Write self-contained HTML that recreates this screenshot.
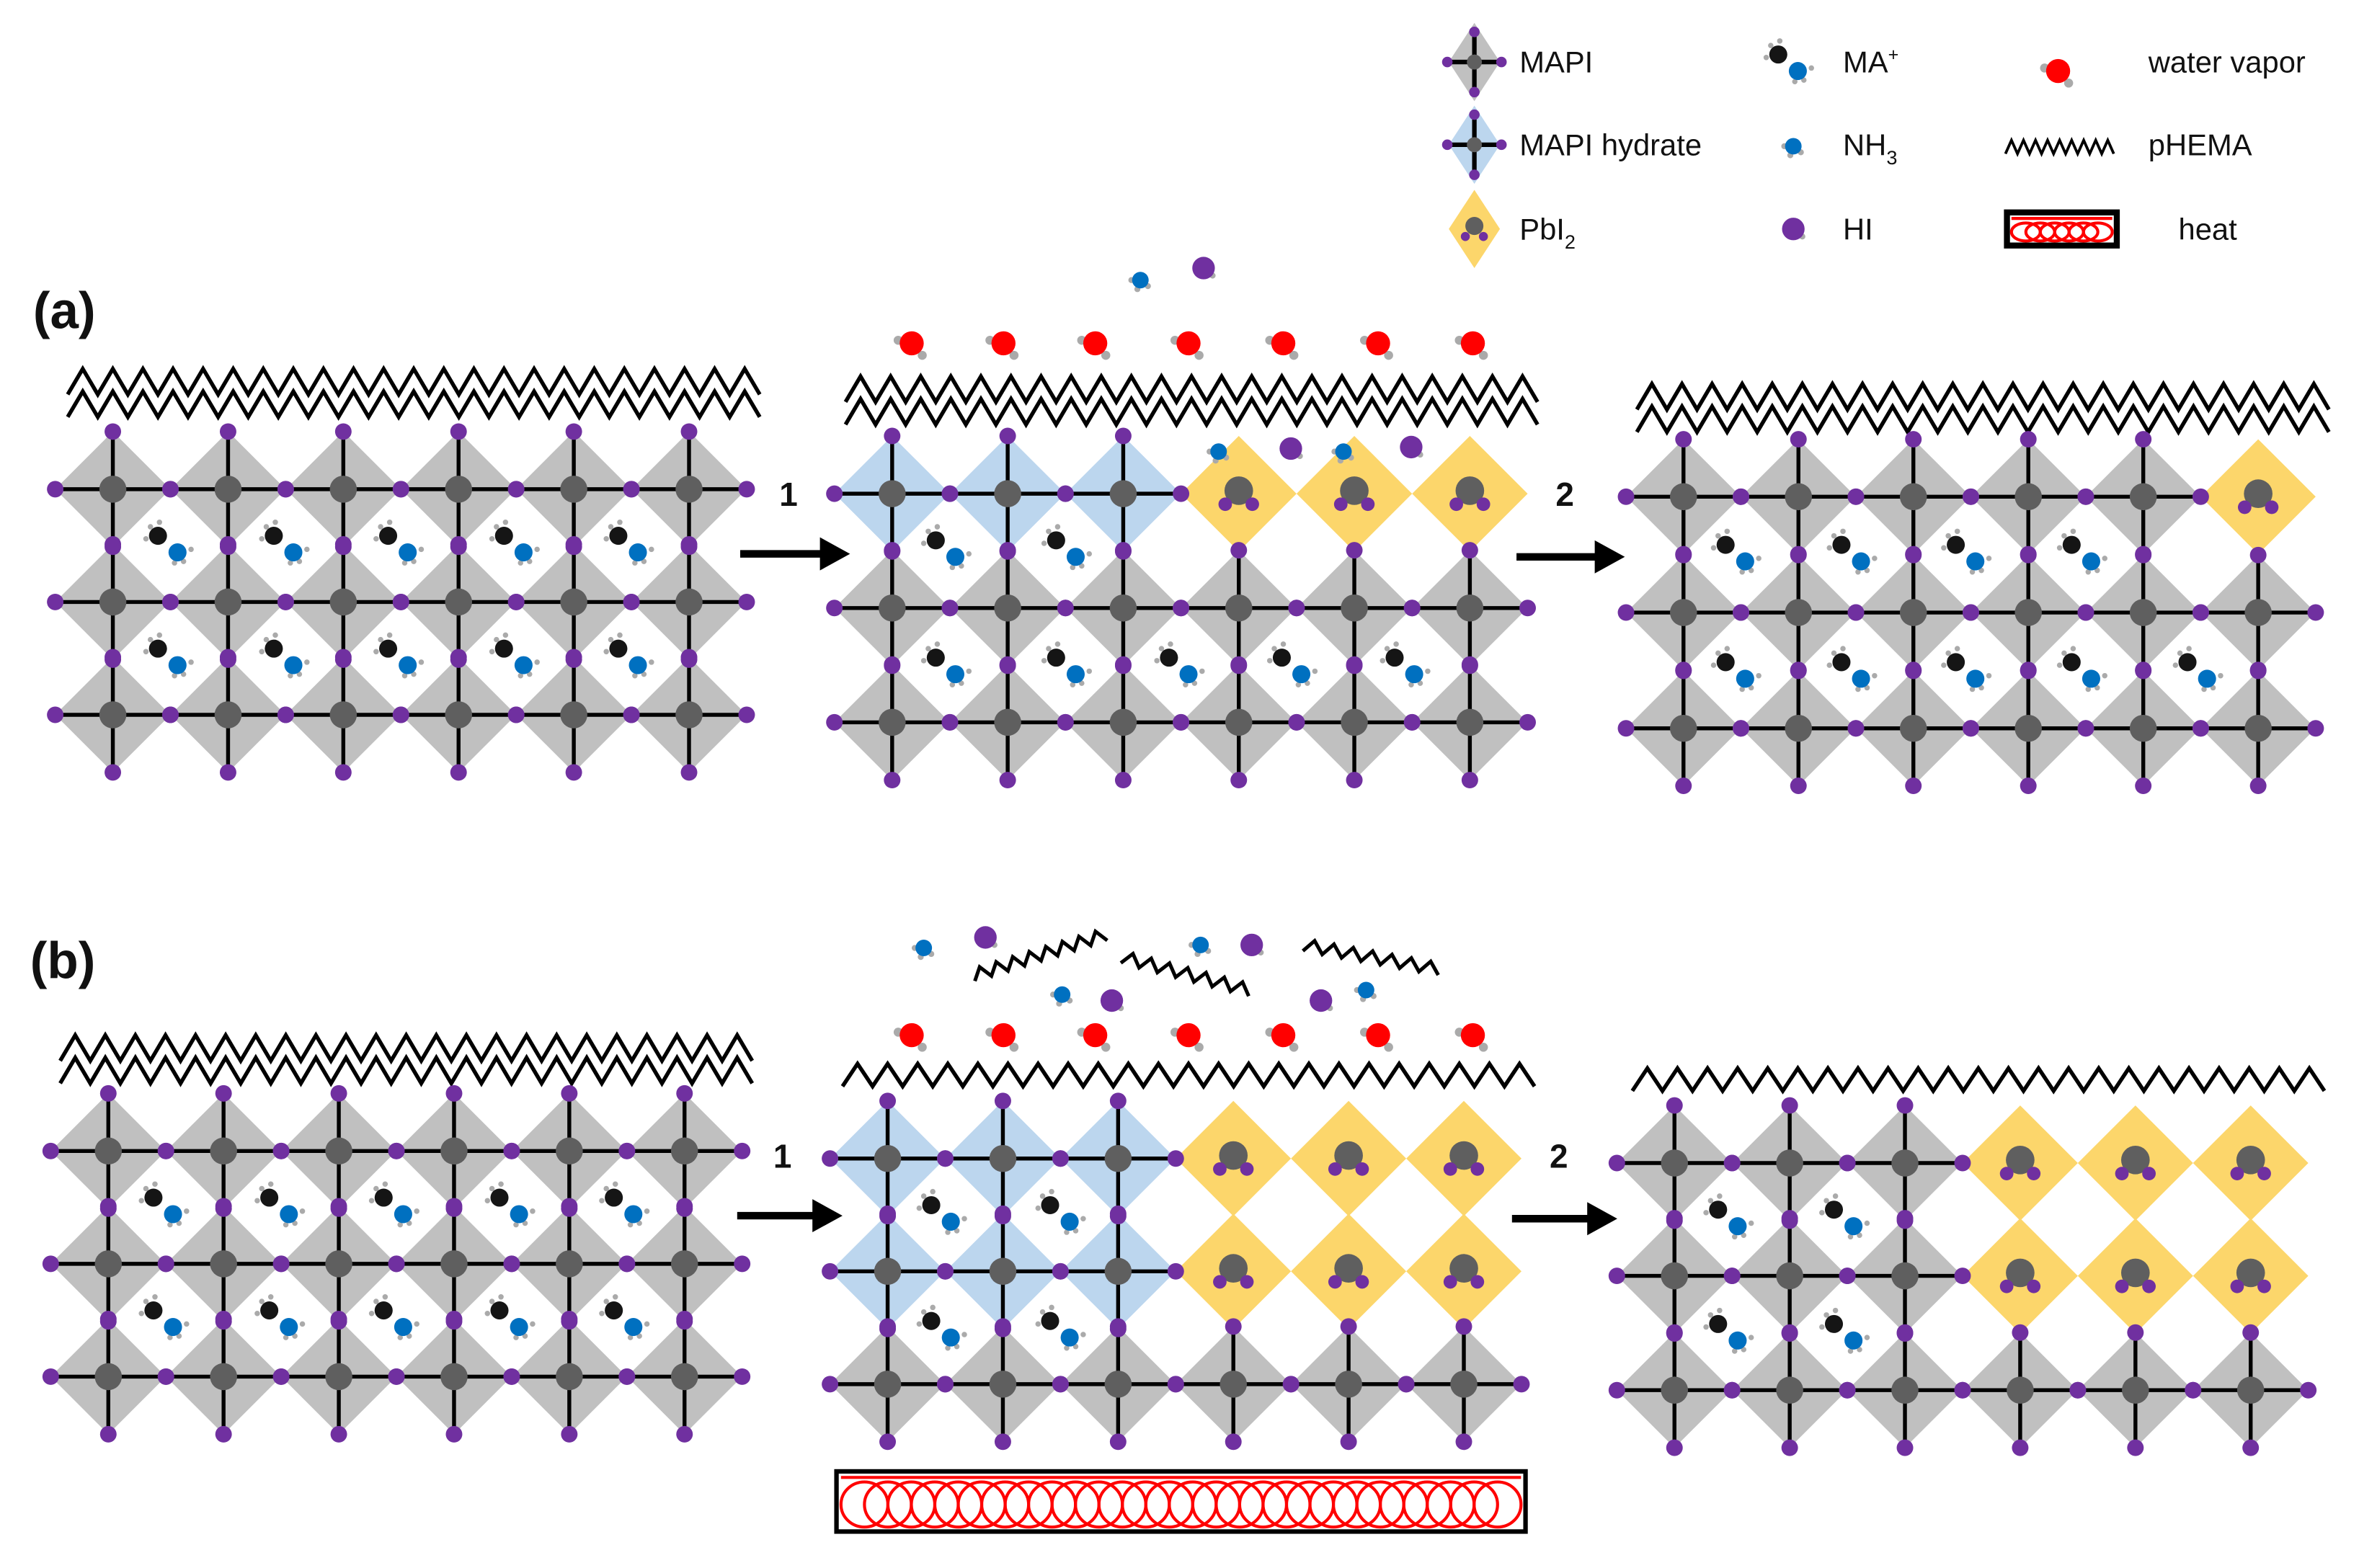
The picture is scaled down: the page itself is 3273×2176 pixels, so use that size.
<!DOCTYPE html>
<html><head><meta charset="utf-8"><style>
html,body{margin:0;padding:0;background:#fff;width:3273px;height:2176px;overflow:hidden}
svg{display:block}
text{font-family:"Liberation Sans",sans-serif;fill:#111}
</style></head><body>
<svg id="s" width="3273" height="2176" viewBox="0 0 1568 1042" xmlns="http://www.w3.org/2000/svg">
<g id="g"></g>
<text x="22" y="218" font-size="34" font-weight="bold">(a)</text>
<text x="20" y="650" font-size="34" font-weight="bold">(b)</text>
<text x="518" y="336" font-size="22" font-weight="bold">1</text>
<text x="1034" y="336" font-size="22" font-weight="bold">2</text>
<text x="514" y="776" font-size="22" font-weight="bold">1</text>
<text x="1030" y="776" font-size="22" font-weight="bold">2</text>
<text x="1010" y="48" font-size="20">MAPI</text>
<text x="1010" y="103" font-size="20">MAPI hydrate</text>
<text x="1010" y="159" font-size="20">PbI<tspan font-size="13" dy="6">2</tspan></text>
<text x="1225" y="48" font-size="20">MA<tspan font-size="12" dy="-8">+</tspan></text>
<text x="1225" y="103" font-size="20">NH<tspan font-size="13" dy="6">3</tspan></text>
<text x="1225" y="159" font-size="20">HI</text>
<text x="1428" y="48" font-size="20">water vapor</text>
<text x="1428" y="103" font-size="20">pHEMA</text>
<text x="1448" y="159" font-size="20">heat</text>
</svg>
<script>
var out=[];
function P(s){out.push(s);}
var GR='#c0c0c0',BL='#bcd6ee',YE='#fcd66b',PU='#7030a0',PB='#5f5f5f';
function circ(x,y,r,f){P('<circle cx="'+x+'" cy="'+y+'" r="'+r+'" fill="'+f+'"/>');}
function line(a,b,c,d,w){P('<line x1="'+a+'" y1="'+b+'" x2="'+c+'" y2="'+d+'" stroke="#000" stroke-width="'+(w||2.6)+'"/>');}
function dia(x,y,hx,hy,f){P('<polygon points="'+x+','+(y-hy)+' '+(x+hx)+','+y+' '+x+','+(y+hy)+' '+(x-hx)+','+y+'" fill="'+f+'"/>');}
function ma(x,y){circ(x-13,y-12,1.8,'#aaa');circ(x-16,y-4,1.8,'#aaa');circ(x-7,y-15,1.8,'#aaa');
 circ(x+14,y+3,1.8,'#aaa');circ(x+9,y+11,1.8,'#aaa');circ(x+3,y+12,1.8,'#aaa');
 circ(x-8,y-6,6,'#151515');circ(x+5,y+5,6,'#0070c0');}
function water(x,y){circ(x-9,y-2,3,'#aaa');circ(x+7,y+8,3,'#aaa');circ(x,y,8,'#f00');}
function nh3(x,y){circ(x-6,y,2,'#aaa');circ(x+5,y+4,2,'#aaa');circ(x-2,y+6,2,'#aaa');circ(x,y,5.5,'#0070c0');}
function hi(x,y){circ(x+6,y+5,2,'#aaa');circ(x,y,7.5,PU);}
function pbi2(x,y){circ(x,y-2,9.5,PB);circ(x-9,y+7,4.5,PU);circ(x+9,y+7,4.5,PU);}
function grid(xs,ys,types,mas){
 var h=(xs[1]-xs[0])/2;
 for(var r=0;r<ys.length;r++)for(var c=0;c<xs.length;c++){var t=types[r][c];dia(xs[c],ys[r],h,h,t=='b'?BL:t=='y'?YE:GR);}
 for(var r=0;r<ys.length;r++)for(var c=0;c<xs.length;c++){var t=types[r][c];if(t!='y'){var x=xs[c],y=ys[r];line(x-h,y,x+h,y);line(x,y-h,x,y+h);}}
 for(var r=0;r<ys.length;r++)for(var c=0;c<xs.length;c++){var t=types[r][c],x=xs[c],y=ys[r];
  if(t=='y'){pbi2(x,y);}else{circ(x-h,y,5.5,PU);circ(x+h,y,5.5,PU);circ(x,y-h,5.5,PU);circ(x,y+h,5.5,PU);circ(x,y,9,PB);}}
 mas.forEach(function(m){ma(m[0],m[1]);});
}
function zig(x1,x2,y,amp,per,w){var s='M'+x1+','+(y+amp),x=x1,up=true;while(x+per/2<=x2+0.1){x+=per/2;s+=' L'+x+','+(up?y:y+amp);up=!up;}
 P('<path d="'+s+'" fill="none" stroke="#000" stroke-width="'+(w||2.6)+'"/>');}
function zigA(x1,y1,x2,y2,amp,n){var s='M'+x1+','+y1;var dx=(x2-x1)/n,dy=(y2-y1)/n;var nx=-dy,ny=dx,L=Math.hypot(nx,ny);nx/=L;ny/=L;
 for(var i=1;i<=n;i++){var px=x1+dx*i,py=y1+dy*i;var o=(i%2?amp:0);s+=' L'+(px-nx*o)+','+(py-ny*o);}
 P('<path d="'+s+'" fill="none" stroke="#000" stroke-width="2.4"/>');}
function arrow(x1,x2,y){line(x1,y,x2-16,y,5);P('<polygon points="'+(x2-20)+','+(y-11)+' '+x2+','+y+' '+(x2-20)+','+(y+11)+'" fill="#000"/>');}
function heat(x,y,w,h,n,bw){P('<rect x="'+x+'" y="'+y+'" width="'+w+'" height="'+h+'" fill="#fff" stroke="#000" stroke-width="'+(bw||3)+'"/>');
 P('<line x1="'+(x+3)+'" y1="'+(y+4)+'" x2="'+(x+w-3)+'" y2="'+(y+4)+'" stroke="#f00" stroke-width="2"/>');
 var rx=(w-6)/(n+1)*1.0,ry=(h-10)/2;for(var i=0;i<n;i++){var cx=x+3+rx+i*(w-6-2*rx)/(n-1);P('<ellipse cx="'+cx+'" cy="'+(y+h/2+2)+'" rx="'+rx+'" ry="'+ry+'" fill="none" stroke="#f00" stroke-width="2"/>');}}
function ar(a,d){var r=[];for(var i=0;i<6;i++)r.push(+(a+d*i).toFixed(1));return r;}
var G=['g','g','g','g','g','g'];
// (a) left
zig(45,505,245,17,20);zig(45,505,260,17,20);
grid(ar(75,76.6),[325,400,475],[G,G,G],[[113,362],[190,362],[266,362],[343,362],[419,362],[113,437],[190,437],[266,437],[343,437],[419,437]]);
arrow(492,565,368);
// (a) middle
zig(562,1022,250,17,20);zig(562,1022,265,17,20);
[606,667,728,790,853,916,979].forEach(function(x){water(x,228);});
grid(ar(593,76.8),[328,404,480],[['b','b','b','y','y','y'],G,G],[[630,365],[710,365],[630,443],[710,443],[785,443],[860,443],[935,443]]);
nh3(758,186);hi(800,178);nh3(810,300);hi(858,298);nh3(893,300);hi(938,297);
arrow(1008,1080,370);
// (a) right
zig(1088,1548,255,17,20);zig(1088,1548,270,17,20);
grid(ar(1119,76.4),[330,407,484],[['g','g','g','g','g','y'],G,G],[[1155,368],[1232,368],[1308,368],[1385,368],[1155,446],[1232,446],[1308,446],[1385,446],[1462,446]]);
// (b) left
zig(40,500,688,17,20);zig(40,500,703,17,20);
grid(ar(72,76.6),[765,840,915],[G,G,G],[[110,802],[187,802],[263,802],[340,802],[416,802],[110,877],[187,877],[263,877],[340,877],[416,877]]);
arrow(490,560,808);
// (b) middle
zigA(648,652,736,625,8,16);zigA(745,640,830,662,8,14);zigA(866,632,956,648,8,14);
nh3(614,630);hi(655,623);nh3(706,661);hi(739,665);nh3(798,628);hi(832,628);hi(878,665);nh3(908,658);
[606,667,728,790,853,916,979].forEach(function(x){water(x,688);});
zig(560,1020,707,15,20);
grid(ar(590,76.6),[770,845,920],[['b','b','b','y','y','y'],['b','b','b','y','y','y'],G],[[627,807],[706,807],[627,884],[706,884]]);
heat(556,978,458,40,28);
arrow(1005,1075,810);
// (b) right
zig(1085,1545,710,15,20);
grid(ar(1113,76.6),[773,848,924],[['g','g','g','y','y','y'],['g','g','g','y','y','y'],G],[[1150,810],[1227,810],[1150,886],[1227,886]]);
// legend
dia(980,41,17,26,GR);line(962,41,998,41,3);line(980,20,980,62,3);circ(962,41,3.5,PU);circ(998,41,3.5,PU);circ(980,21,3.5,PU);circ(980,61,3.5,PU);circ(980,41,5,PB);
dia(980,96,17,26,BL);line(962,96,998,96,3);line(980,75,980,117,3);circ(962,96,3.5,PU);circ(998,96,3.5,PU);circ(980,76,3.5,PU);circ(980,116,3.5,PU);circ(980,96,5,PB);
dia(980,152,17,26,YE);circ(980,150,6,PB);circ(974,157,3,PU);circ(986,157,3,PU);
ma(1190,42);nh3(1192,97);hi(1192,152);water(1368,47);
zig(1333,1408,93,9,8,1.8);
heat(1334,141,73,22,6,4);
document.getElementById('g').innerHTML=out.join('');
</script>
</body></html>
